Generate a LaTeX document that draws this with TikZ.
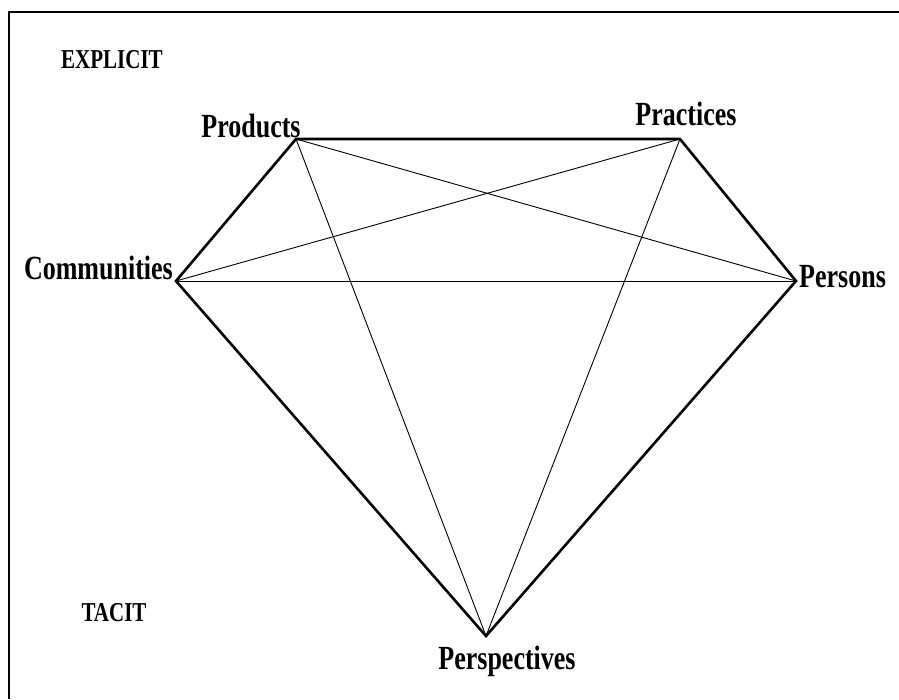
\documentclass[tikz,border=0pt]{standalone}
\usepackage{fontspec}
\setmainfont{Liberation Serif}
\newcommand{\tall}[1]{\scalebox{1}[1.3]{#1}}

\begin{document}
\begin{tikzpicture}[x=1pt, y=-1pt,
    outer/.style={line width=2.6pt},
    inner/.style={line width=0.9pt},
    vlabel/.style={font=\fontsize{26}{28}\selectfont\bfseries, inner sep=0pt},
    level/.style={font=\fontsize{21}{24}\selectfont\bfseries, inner sep=0pt}]
    \useasboundingbox (0,0) rectangle (899,699);

    % Frame
    \draw[line width=2.5pt] (9,699) -- (9,12) -- (899,12);

    % Levels
    \node[level] (explicit) at (112,60) {\tall{EXPLICIT}};
    \node[level] (tacit) at (114,613) {\tall{TACIT}};

    % Corners of the diamond
    \coordinate (products) at (296,139);
    \coordinate (practices) at (680,139);
    \coordinate (communities) at (176,281);
    \coordinate (persons) at (796,281);
    \coordinate (perspectives) at (486,636);

    % Corner labels
    \node[vlabel] (productsL) at (251,126) {\tall{Products}};
    \node[vlabel] (practicesL) at (686,114) {\tall{Practices}};
    \node[vlabel, anchor=east] (communitiesL) at (173,268) {\tall{Communities}};
    \node[vlabel, anchor=west] (personsL) at (799,277) {\tall{Persons}};
    \node[vlabel] (perspectivesL) at (507,661) {\tall{Perspectives}};

    % Outer edges
    \draw[outer, line join=miter] (products) -- (practices) -- (persons)
        -- (perspectives) -- (communities) -- cycle;

    % Inner edges
    \draw[inner] (communities) -- (practices);
    \draw[inner] (products) -- (persons);
    \draw[inner] (communities) -- (persons);
    \draw[inner] (products) -- (perspectives);
    \draw[inner] (practices) -- (perspectives);
\end{tikzpicture}
\end{document}
